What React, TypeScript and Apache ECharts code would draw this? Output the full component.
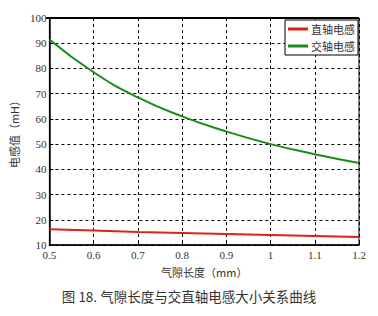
import React, { useEffect, useRef } from "react";
import * as echarts from "echarts";

const xValues = [0.5, 0.6, 0.7, 0.8, 0.9, 1.0, 1.1, 1.2];
const directAxis = [16.2, 15.7, 15.2, 14.8, 14.4, 14.0, 13.6, 13.2];
const quadAxis = [91.5, 78.5, 68.5, 61, 55, 50, 46, 42.5];
const seriesNames = ["直轴电感", "交轴电感"];
const xTitle = "气隙长度（mm）";
const yTitle = "电感值（mH）";
const caption = "图 18. 气隙长度与交直轴电感大小关系曲线";

const serif = "'Liberation Serif', 'DejaVu Serif', serif";
const cjk = "'Noto Sans CJK SC', sans-serif";

export default function App() {
  const ref = useRef<HTMLDivElement>(null);
  useEffect(() => {
    if (!ref.current) return;
    const chart = echarts.init(ref.current, null, { renderer: "svg" });
    chart.setOption({
      animation: false,
      backgroundColor: "#ffffff",
      grid: {
        left: 46,
        right: 19,
        top: 18,
        bottom: 71,
        show: true,
        borderColor: "#000",
        borderWidth: 1,
      },
      legend: {
        data: seriesNames,
        orient: "vertical",
        right: 20,
        top: 20,
        backgroundColor: "#fff",
        borderColor: "#000",
        borderWidth: 1,
        padding: [3, 3, 3, 3],
        itemGap: 5,
        itemWidth: 20,
        itemHeight: 3,
        icon: "rect",
        textStyle: { fontFamily: cjk, fontSize: 11, lineHeight: 12, color: "#333", padding: [0, 0, 0, -2] },
      },
      xAxis: {
        type: "value",
        min: 0.5,
        max: 1.2,
        interval: 0.1,
        name: xTitle,
        nameLocation: "middle",
        nameGap: 21,
        nameTextStyle: { fontFamily: cjk, fontSize: 11, color: "#333" },
        axisLine: { lineStyle: { color: "#000", width: 1.5 } },
        axisTick: { inside: true, length: 4, lineStyle: { color: "#000" } },
        axisLabel: {
          fontFamily: serif,
          fontSize: 11,
          color: "#333",
          margin: 4,
          formatter: (v: number) => String(Math.round(v * 10) / 10),
        },
        splitLine: { show: true, lineStyle: { color: "#000", type: [3, 3], width: 1 } },
      },
      yAxis: {
        type: "value",
        min: 10,
        max: 100,
        interval: 10,
        name: yTitle,
        nameLocation: "middle",
        nameGap: 28,
        nameTextStyle: { fontFamily: cjk, fontSize: 11, color: "#333" },
        axisLine: { show: true, lineStyle: { color: "#000", width: 1.5 } },
        axisTick: { show: true, inside: true, length: 4, lineStyle: { color: "#000" } },
        axisLabel: { fontFamily: serif, fontSize: 11, color: "#333", margin: 3 },
        splitLine: { show: true, lineStyle: { color: "#000", type: [3, 3], width: 1.2 } },
      },
      series: [
        {
          name: seriesNames[0],
          type: "line",
          smooth: true,
          symbol: "none",
          data: xValues.map((x, i) => [x, directAxis[i]]),
          lineStyle: { color: "#e0201b", width: 2 },
          itemStyle: { color: "#e0201b" },
        },
        {
          name: seriesNames[1],
          type: "line",
          smooth: true,
          symbol: "none",
          data: xValues.map((x, i) => [x, quadAxis[i]]),
          lineStyle: { color: "#1a8a1a", width: 2 },
          itemStyle: { color: "#1a8a1a" },
        },
      ],
      graphic: [
        {
          type: "line",
          shape: { x1: 46, y1: 18, x2: 359, y2: 18 },
          style: { stroke: "#000", lineWidth: 2 },
        },
        {
          type: "text",
          left: "center",
          top: 289,
          style: { text: caption, fontFamily: cjk, fontSize: 13.5, fill: "#333" },
        },
      ],
    });
    return () => chart.dispose();
  }, []);
  return <div ref={ref} style={{ width: 378, height: 316, position: "absolute", left: 0, top: 0 }} />;
}
